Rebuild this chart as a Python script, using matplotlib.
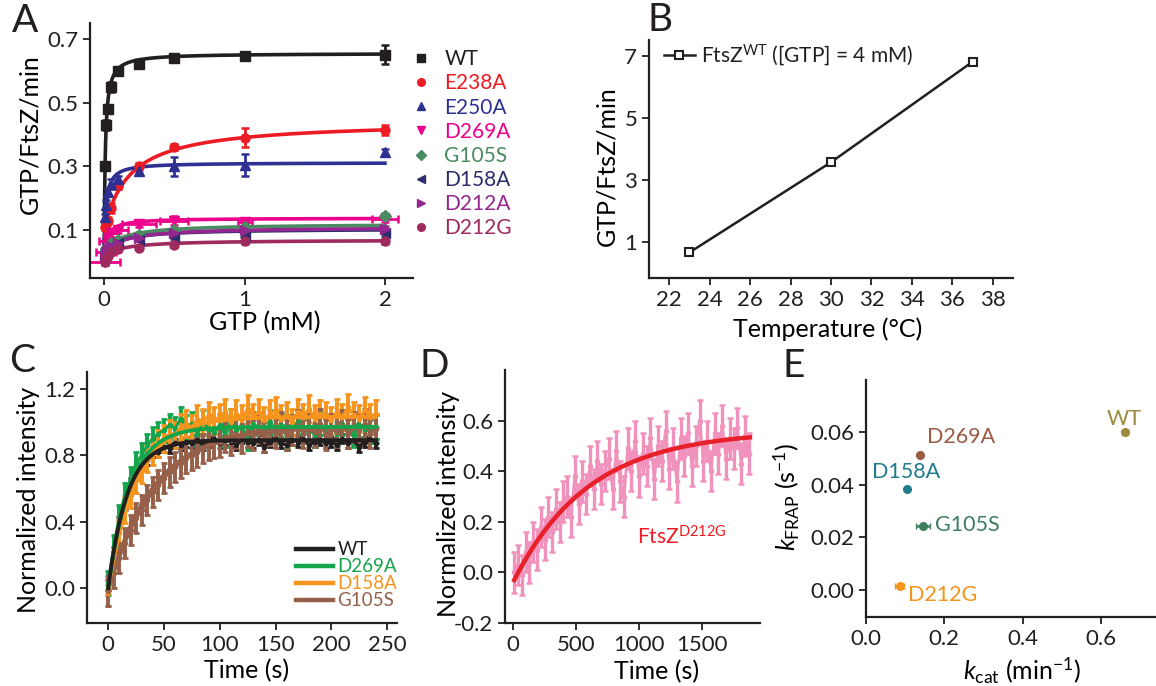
import matplotlib
matplotlib.use('Agg')
import matplotlib.pyplot as plt
import numpy as np

plt.rcParams['font.family'] = ['Lato', 'DejaVu Sans']
plt.rcParams['mathtext.fontset'] = 'custom'
plt.rcParams['mathtext.rm'] = 'Lato'
plt.rcParams['mathtext.it'] = 'Lato:italic'
plt.rcParams['mathtext.default'] = 'regular'
plt.rcParams['axes.unicode_minus'] = False

INK = '#231F20'
plt.rcParams['text.color'] = INK
plt.rcParams['axes.edgecolor'] = INK
plt.rcParams['xtick.color'] = INK
plt.rcParams['ytick.color'] = INK

# ---------------- panel A: GTPase activity vs [GTP] ----------------
a_names = ['WT', 'E238A', 'E250A', 'D269A', 'G105S', 'D158A', 'D212A', 'D212G']
a_colors = ['#231F20', '#ED1C24', '#2E3192', '#EC008C', '#4B8B62', '#2B2D6E', '#93278F', '#9E2A5E']
a_markers = ['s', 'o', '^', 'v', 'D', '<', '>', 'o']
gtp = [0.005, 0.0125, 0.025, 0.05, 0.1, 0.25, 0.5, 1, 2]
a_rates = [
    [0.30, 0.43, 0.48, 0.55, 0.60, 0.62, 0.64, 0.645, 0.65],
    [0.11, 0.12, 0.13, 0.17, 0.24, 0.30, 0.36, 0.39, 0.415],
    [0.14, 0.18, 0.22, 0.245, 0.26, 0.285, 0.30, 0.305, 0.345],
    [0.00, 0.03, 0.065, 0.09, 0.10, 0.12, 0.13, 0.125, 0.135],
    [0.03, 0.04, 0.05, 0.06, 0.07, 0.085, 0.10, 0.11, 0.145],
    [0.02, 0.03, 0.04, 0.05, 0.06, 0.07, 0.08, 0.08, 0.09],
    [0.02, 0.03, 0.04, 0.05, 0.06, 0.075, 0.09, 0.10, 0.105],
    [0.00, 0.01, 0.02, 0.03, 0.04, 0.045, 0.055, 0.065, 0.065],
]
a_yerr = [
    [0.01, 0.015, 0.01, 0.015, 0.01, 0.01, 0.01, 0.008, 0.03],
    [0.01, 0.01, 0.01, 0.015, 0.01, 0.01, 0.01, 0.03, 0.015],
    [0.01, 0.015, 0.01, 0.015, 0.01, 0.01, 0.03, 0.035, 0.01],
    [0.01, 0.01, 0.01, 0.01, 0.01, 0.01, 0.015, 0.01, 0.01],
    [0.005, 0.005, 0.005, 0.005, 0.005, 0.008, 0.008, 0.008, 0.008],
    [0.005, 0.005, 0.005, 0.005, 0.005, 0.005, 0.008, 0.008, 0.008],
    [0.005, 0.005, 0.005, 0.005, 0.005, 0.005, 0.008, 0.008, 0.008],
    [0.01, 0.005, 0.005, 0.005, 0.005, 0.005, 0.008, 0.008, 0.008],
]
d269a_xerr = [0.11, 0.07, 0.06, 0.05, 0.07, 0.12, 0.10, 0.05, 0.09]
# Michaelis-Menten fit parameters: baseline, Vmax, Km
a_base = [0.0, 0.10, 0.0, 0.03, 0.03, 0.03, 0.03, 0.02]
a_vmax = [0.655, 0.343, 0.312, 0.108, 0.09, 0.075, 0.08, 0.05]
a_km = [0.008, 0.18, 0.012, 0.03, 0.12, 0.12, 0.15, 0.15]

# ---------------- panel B: activity vs temperature ----------------
temp = [23, 30, 37]
temp_rate = [0.67, 3.57, 6.8]

# ---------------- panel C: FRAP recovery ----------------
c_names = ['WT', 'D269A', 'D158A', 'G105S']
c_colors = ['#231F20', '#13A54B', '#F7941D', '#96604A']
c_wt = [0.02, 0.22, 0.40, 0.50, 0.63, 0.68, 0.75, 0.77, 0.82, 0.82,
        0.85, 0.84, 0.87, 0.86, 0.88, 0.87, 0.89, 0.86, 0.88, 0.90,
        0.87, 0.89, 0.88, 0.86, 0.90, 0.88, 0.87, 0.89, 0.85, 0.88,
        0.90, 0.87, 0.86, 0.89, 0.88, 0.90, 0.86, 0.88, 0.89, 0.87,
        0.88, 0.86, 0.90, 0.87, 0.89, 0.85, 0.88, 0.90, 0.87]
c_d269a = [0.03, 0.25, 0.43, 0.56, 0.66, 0.75, 0.80, 0.86, 0.90, 0.93,
           0.95, 0.98, 0.96, 1.02, 0.97, 0.99, 0.93, 1.00, 0.96, 0.94,
           0.98, 0.92, 1.01, 0.95, 0.97, 0.90, 0.99, 0.96, 0.93, 1.00,
           0.95, 0.98, 0.91, 0.97, 1.00, 0.94, 0.96, 0.92, 0.99, 0.95,
           0.97, 0.93, 0.99, 0.95, 0.92, 0.98, 0.96, 0.94, 0.97]
c_d158a = [-0.03, 0.17, 0.33, 0.47, 0.56, 0.65, 0.71, 0.78, 0.82, 0.87,
           0.90, 0.93, 0.92, 0.97, 0.99, 0.96, 1.02, 1.00, 1.04, 1.01,
           1.03, 1.06, 1.00, 1.05, 1.02, 1.08, 1.03, 1.06, 1.01, 1.05,
           1.07, 1.02, 1.04, 1.00, 1.06, 1.03, 1.08, 1.02, 1.05, 1.04,
           1.01, 1.06, 1.03, 1.09, 1.04, 1.02, 1.07, 1.03, 1.05]
c_g105s = [-0.02, 0.09, 0.18, 0.27, 0.35, 0.42, 0.47, 0.53, 0.58, 0.62,
           0.66, 0.70, 0.73, 0.75, 0.78, 0.80, 0.82, 0.84, 0.86, 0.87,
           0.88, 0.91, 0.89, 0.93, 0.90, 0.94, 0.92, 0.96, 0.91, 0.95,
           0.93, 0.97, 0.92, 0.95, 0.98, 0.93, 0.96, 0.94, 0.99, 0.92,
           0.96, 0.94, 0.98, 0.93, 0.97, 0.95, 0.99, 0.93, 0.96]
c_series = [c_wt, c_d269a, c_d158a, c_g105s]
c_err = [0.03, 0.07, 0.08, 0.09]
c_time = np.arange(0, 5 * len(c_wt), 5)
# single-exponential fits: plateau and time constant (s)
c_plateau = [0.89, 0.97, 1.03, 0.97]
c_tau = [17, 19.6, 26, 41]

# ---------------- panel D: FRAP of D212G ----------------
d_time = np.arange(10, 1871, 30)
d_int = [0.00, 0.03, -0.01, 0.08, 0.04, 0.12, 0.09, 0.18, 0.13, 0.22,
         0.16, 0.25, 0.20, 0.28, 0.30, 0.22, 0.38, 0.27, 0.36, 0.31,
         0.42, 0.33, 0.44, 0.35, 0.40, 0.45, 0.33, 0.48, 0.36, 0.30,
         0.49, 0.40, 0.52, 0.38, 0.47, 0.42, 0.53, 0.37, 0.50, 0.44,
         0.56, 0.41, 0.49, 0.36, 0.53, 0.46, 0.55, 0.42, 0.50, 0.60,
         0.44, 0.52, 0.40, 0.55, 0.47, 0.58, 0.45, 0.53, 0.49, 0.57,
         0.43, 0.54, 0.47]
d_err = 0.08
d_fit = (0.56, 0.60, 600)   # plateau, amplitude, tau

# ---------------- panel E: kFRAP vs kcat ----------------
e_names = ['WT', 'D269A', 'D158A', 'G105S', 'D212G']
e_colors = ['#9E8C3C', '#9B5A43', '#1E7C8C', '#3D7E5E', '#F7941D']
e_kcat = [0.66, 0.137, 0.105, 0.145, 0.086]
e_kcat_err = [0.008, 0.004, 0.003, 0.018, 0.012]
e_kfrap = [0.060, 0.0515, 0.0385, 0.0243, 0.0015]
e_kfrap_err = [0.0008, 0.0008, 0.0005, 0.0005, 0.0005]

TICK = 16
LAB = 18


def style(ax):
    for s in ('top', 'right'):
        ax.spines[s].set_visible(False)
    for s in ('left', 'bottom'):
        ax.spines[s].set_linewidth(1.6)
    ax.tick_params(direction='out', length=5, width=1.3, labelsize=TICK)


fig = plt.figure(figsize=(11.56, 6.86), dpi=100)

# ---- A ----
axA = fig.add_axes([0.0779, 0.5948, 0.2794, 0.3717])
style(axA)
xfit = np.geomspace(0.0006, 2, 400)
handles = []
for i, name in enumerate(a_names):
    c = a_colors[i]
    xe = d269a_xerr if name == 'D269A' else None
    axA.errorbar(gtp, a_rates[i], yerr=a_yerr[i], xerr=xe, fmt=a_markers[i],
                 color=c, ms=6.5, capsize=3, elinewidth=2.0, capthick=1.8)
    yfit = a_base[i] + a_vmax[i] * xfit / (a_km[i] + xfit)
    axA.plot(xfit, yfit, color=c, lw=2.6)
    h, = axA.plot([], [], a_markers[i], color=c, ms=5.5)
    handles.append(h)
axA.set_xlim(-0.1, 2.2)
axA.set_ylim(-0.05, 0.75)
axA.set_xticks([0, 1, 2])
axA.set_yticks([0.1, 0.3, 0.5, 0.7])
axA.set_yticklabels(['0.1', '0.3', '0.5', '0.7'])
axA.set_xlabel('GTP (mM)', fontsize=LAB)
axA.set_ylabel('GTP/FtsZ/min', fontsize=LAB)
axA.xaxis.set_label_coords(0.54, -0.13)
axA.yaxis.set_label_coords(-0.15, 0.565)
leg = axA.legend(handles, a_names, loc='upper left', bbox_to_anchor=(1.0, 0.897),
                 frameon=False, fontsize=15, handlelength=0.8, handletextpad=0.7,
                 labelspacing=0.2, borderpad=0, borderaxespad=0)
for t, c in zip(leg.get_texts(), a_colors):
    t.set_color(c)

# ---- B ----
axB = fig.add_axes([0.5614, 0.5948, 0.3149, 0.3469])
style(axB)
axB.plot(temp, temp_rate, '-s', color=INK, lw=1.8, ms=5.5, mfc='white', mew=1.5,
         label='FtsZ$^{WT}$ ([GTP] = 4 mM)')
axB.set_xlim(21, 39)
axB.set_ylim(-0.15, 7.5)
axB.set_xticks(range(22, 39, 2))
axB.set_yticks([1, 3, 5, 7])
axB.set_xlabel('Temperature (°C)', fontsize=LAB)
axB.set_ylabel('GTP/FtsZ/min', fontsize=LAB)
axB.xaxis.set_label_coords(0.49, -0.165)
axB.yaxis.set_label_coords(-0.085, 0.47)
axB.legend(loc='upper left', bbox_to_anchor=(0.04, 0.99), frameon=False, fontsize=15,
           handlelength=1.5, handletextpad=0.3, borderpad=0, borderaxespad=0)

# ---- C ----
axC = fig.add_axes([0.0753, 0.0918, 0.2682, 0.3659])
style(axC)
for i in range(4):
    axC.errorbar(c_time, c_series[i], yerr=c_err[i], fmt='-o', color=c_colors[i],
                 ms=3, lw=2.2, elinewidth=2.8, capsize=2.5, capthick=2)
tfit = np.linspace(0, 240, 300)
for i in [3, 2, 1, 0]:
    y = c_plateau[i] * (1 - np.exp(-tfit / c_tau[i]))
    axC.plot(tfit, y, color=c_colors[i], lw=2.8, zorder=5)
c_handles = []
for i in range(4):
    h, = axC.plot([], [], color=c_colors[i], lw=3.2)
    c_handles.append(h)
axC.set_xlim(-19, 259)
axC.set_ylim(-0.21, 1.3)
axC.set_xticks(range(0, 251, 50))
axC.set_yticks([0.0, 0.4, 0.8, 1.2])
axC.set_yticklabels(['0.0', '0.4', '0.8', '1.2'])
axC.set_xlabel('Time (s)', fontsize=LAB)
axC.set_ylabel('Normalized intensity', fontsize=LAB)
axC.xaxis.set_label_coords(0.516, -0.145)
axC.yaxis.set_label_coords(-0.152, 0.49)
legC = axC.legend(c_handles, c_names, loc='lower right', bbox_to_anchor=(1.0, 0.055),
                  frameon=False, fontsize=13.5, handlelength=2.0, handletextpad=0.2,
                  labelspacing=0.0, borderpad=0, borderaxespad=0)
for t, c in zip(legC.get_texts(), c_colors):
    t.set_color(c)

# ---- D ----
axD = fig.add_axes([0.4369, 0.0918, 0.2206, 0.3688])
style(axD)
axD.errorbar(d_time, d_int, yerr=d_err, fmt='-o', color='#F192BD', ms=3, lw=2.0,
             elinewidth=2.4, capsize=2, capthick=1.8)
tD = np.linspace(10, 1880, 300)
axD.plot(tD, d_fit[0] - d_fit[1] * np.exp(-tD / d_fit[2]), color='#E8202A', lw=3.2, zorder=5)
axD.text(985, 0.14, 'FtsZ$^{D212G}$', color='#ED1C24', fontsize=15, va='center')
axD.set_xlim(-63, 1960)
axD.set_ylim(-0.2, 0.8)
axD.set_xticks([0, 500, 1000, 1500])
axD.set_yticks([-0.2, 0.0, 0.2, 0.4, 0.6])
axD.set_yticklabels(['-0.2', '0.0', '0.2', '0.4', '0.6'])
axD.set_xlabel('Time (s)', fontsize=LAB)
axD.set_ylabel('Normalized intensity', fontsize=LAB)
axD.xaxis.set_label_coords(0.596, -0.145)
axD.yaxis.set_label_coords(-0.176, 0.47)

# ---- E ----
axE = fig.add_axes([0.7491, 0.1006, 0.2509, 0.3455])
style(axE)
label_off = [(0.0, 0.0053), (0.02, 0.0068), (-0.003, 0.0064), (0.032, 0.0005), (0.022, -0.0035)]
label_ha = ['center', 'left', 'center', 'left', 'left']
for i, name in enumerate(e_names):
    axE.errorbar(e_kcat[i], e_kfrap[i], xerr=e_kcat_err[i], yerr=e_kfrap_err[i], fmt='o',
                 color=e_colors[i], ms=5.5, capsize=2, elinewidth=1.8)
    axE.text(e_kcat[i] + label_off[i][0], e_kfrap[i] + label_off[i][1], name,
             color=e_colors[i], fontsize=15.5, ha=label_ha[i], va='center')
axE.set_xlim(0, 0.74)
axE.set_ylim(-0.0103, 0.080)
axE.set_xticks([0.0, 0.2, 0.4, 0.6])
axE.set_xticklabels(['0.0', '0.2', '0.4', '0.6'])
axE.set_yticks([0.0, 0.02, 0.04, 0.06])
axE.set_yticklabels(['0.00', '0.02', '0.04', '0.06'])
axE.set_xlabel('$\\mathit{k}_{cat}$ (min$^{-1}$)', fontsize=LAB)
axE.set_ylabel('$\\mathit{k}_{FRAP}$ (s$^{-1}$)', fontsize=LAB)
axE.xaxis.set_label_coords(0.54, -0.165)
axE.yaxis.set_label_coords(-0.22, 0.506)

# panel letters
for lbl, x, y in [('A', 0.0216, 0.969), ('B', 0.571, 0.971), ('C', 0.019, 0.474),
                  ('D', 0.376, 0.466), ('E', 0.687, 0.466)]:
    fig.text(x, y, lbl, fontsize=28, ha='center', va='center')

fig.savefig('out.png', dpi=100)
